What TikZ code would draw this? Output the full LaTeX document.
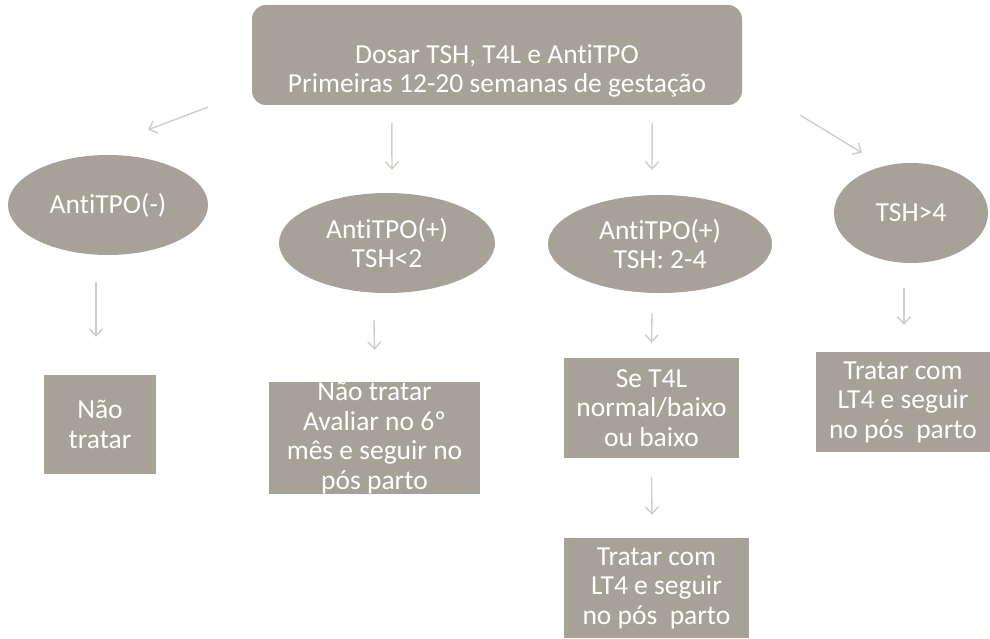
\documentclass[tikz,border=0pt]{standalone}
\usepackage{fontspec}
\setmainfont{Carlito}[Ligatures=NoCommon]
\usetikzlibrary{arrows.meta,calc,shapes.geometric}

\definecolor{boxgray}{RGB}{166,162,151}
\definecolor{arrgray}{RGB}{206,206,201}

\tikzset{
  boxtext/.style={text=white, align=center, font=\fontsize{27.5}{29.5}\selectfont},
  base/.style={boxtext, fill=boxgray, inner sep=0pt},
  topbox/.style={base, rounded corners=14pt, minimum width=490pt, minimum height=100pt},
  oval/.style={base, ellipse},
  outbox/.style={base, rectangle},
  arr/.style={draw=arrgray, line width=1.4pt, -{Straight Barb[length=7pt,width=13pt]}},
}

\begin{document}
\begin{tikzpicture}[x=1pt,y=-1pt]
  \useasboundingbox (0,0) rectangle (990,639);

  % Exames iniciais
  \node[topbox, label={[boxtext, yshift=-16pt]center:{Dosar TSH, T4L e AntiTPO\\Primeiras 12-20 semanas de gestação}}] (dosar) at (497,55) {};

  % Resultados
  \node[oval, minimum width=200pt, minimum height=100pt] (neg)  at (108,205) {AntiTPO(-)};
  \node[oval, minimum width=216pt, minimum height=100pt] (low)  at (387,243) {AntiTPO(+)\\TSH<2};
  \node[oval, minimum width=224pt, minimum height=98pt]  (mid)  at (660,244) {AntiTPO(+)\\TSH: 2-4};
  \node[oval, minimum width=154pt, minimum height=100pt] (high) at (911,213) {TSH>4};

  % Condutas
  \node[outbox, minimum width=112pt, minimum height=99pt]  (naotratar)  at (100,424.5) {Não\\tratar};
  \node[outbox, minimum width=211pt, minimum height=112pt] (avaliar)    at (374.5,438) {Não tratar\\Avaliar no 6º\\mês e seguir no\\pós parto};
  \node[outbox, minimum width=175pt, minimum height=100pt] (set4l)      at (651.5,408) {Se T4L\\normal/baixo\\ou baixo};
  \node[outbox, minimum width=185pt, minimum height=100pt] (tratarmid)  at (656.5,588) {Tratar com\\LT4 e seguir\\no pós~~parto};
  \node[outbox, minimum width=174pt, minimum height=100pt] (tratarhigh) at (903,402)   {Tratar com\\LT4 e seguir\\no pós~~parto};

  % Setas
  \draw[arr] ($(dosar.south west)+(-44,2)$)  -- ($(neg.north)+(40,-25)$);
  \draw[arr] ($(dosar.south west)+(140,18)$) -- ($(low.north)+(5,-23)$);
  \draw[arr] ($(dosar.south east)+(-90,18)$) -- ($(mid.north)+(-8,-25)$);
  \draw[arr] ($(dosar.south east)+(58,10)$)  -- ($(high.north)+(-49,-10)$);

  \draw[arr] ($(neg.south)+(-12,27)$)  -- ($(naotratar.north)+(-4,-38)$);
  \draw[arr] ($(low.south)+(-13,27)$)  -- ($(avaliar.north)+(0,-32)$);
  \draw[arr] ($(mid.south)+(-8,20)$)   -- ($(set4l.north)+(0,-15)$);
  \draw[arr] ($(set4l.south)+(0,19)$)  -- ($(tratarmid.north)+(-4.5,-23)$);
  \draw[arr] ($(high.south)+(-7,25)$)  -- ($(tratarhigh.north)+(1,-27)$);
\end{tikzpicture}
\end{document}
